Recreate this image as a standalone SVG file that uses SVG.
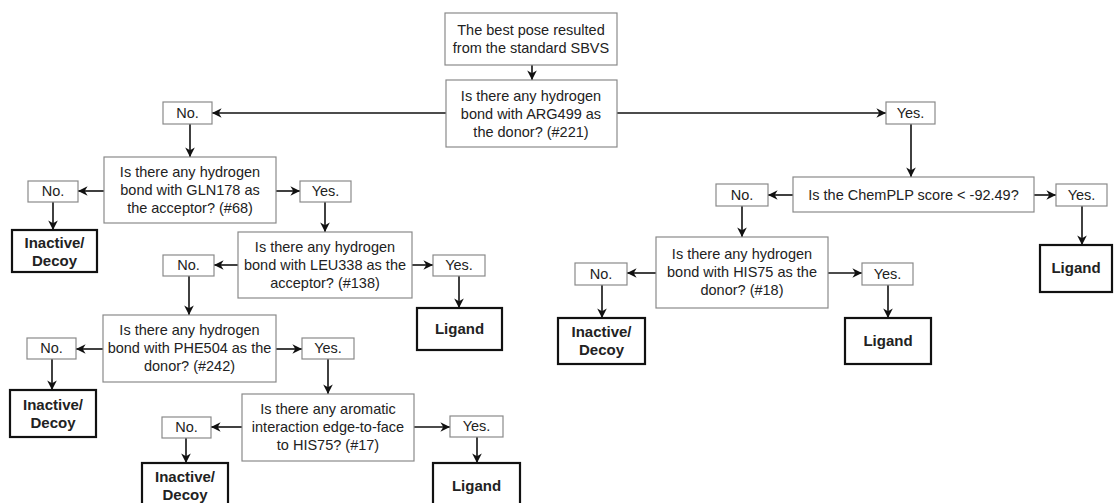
<svg xmlns="http://www.w3.org/2000/svg" width="1115" height="503" viewBox="0 0 1115 503">
<style>
text{font-family:"Liberation Sans",Arial,sans-serif;font-size:14.5px;fill:#222;text-anchor:middle}
.q{fill:#fff;stroke:#8a8a8a;stroke-width:1.2}
.yn{fill:#fff;stroke:#8a8a8a;stroke-width:1.2}
.t{fill:#fff;stroke:#111;stroke-width:2.2}
.b{font-weight:bold;font-size:15px}
.c line{stroke:#111;stroke-width:1.6;marker-end:url(#ah)}
</style>
<defs>
<marker id="ah" viewBox="0 0 10 10" refX="10" refY="5" markerWidth="6" markerHeight="6" orient="auto" markerUnits="strokeWidth">
<path d="M0,0 L10,5 L0,10 L3,5 Z" fill="#111"/>
</marker>
</defs>
<rect width="1115" height="503" fill="#fff"/>
<g class="c" id="connectors">
<line x1="532" y1="65" x2="532" y2="80"/>
<line x1="446" y1="113" x2="212" y2="113"/>
<line x1="617" y1="113" x2="886" y2="113"/>
<line x1="190" y1="124" x2="190" y2="157"/>
<line x1="104" y1="191" x2="78" y2="191"/>
<line x1="276" y1="191" x2="300" y2="191"/>
<line x1="53" y1="202" x2="53" y2="230"/>
<line x1="325" y1="202" x2="325" y2="232"/>
<line x1="238" y1="265" x2="214" y2="265"/>
<line x1="412" y1="265" x2="433" y2="265"/>
<line x1="189" y1="276" x2="189" y2="315"/>
<line x1="459" y1="276" x2="459" y2="308"/>
<line x1="103" y1="349" x2="76" y2="349"/>
<line x1="276" y1="349" x2="302" y2="349"/>
<line x1="52" y1="359" x2="52" y2="390"/>
<line x1="328" y1="359" x2="328" y2="394"/>
<line x1="242" y1="427" x2="211" y2="427"/>
<line x1="414" y1="427" x2="450" y2="427"/>
<line x1="186" y1="438" x2="186" y2="463"/>
<line x1="477" y1="437" x2="477" y2="463"/>
<line x1="911" y1="124" x2="911" y2="177"/>
<line x1="793" y1="195" x2="768" y2="195"/>
<line x1="1034" y1="195" x2="1056" y2="195"/>
<line x1="742" y1="206" x2="742" y2="237"/>
<line x1="1082" y1="206" x2="1082" y2="245"/>
<line x1="656" y1="273" x2="627" y2="273"/>
<line x1="828" y1="273" x2="862" y2="273"/>
<line x1="602" y1="285" x2="602" y2="318"/>
<line x1="888" y1="285" x2="888" y2="318"/>
</g>
<g id="start"><rect class="q" x="445" y="13" width="172" height="52"/><text x="531" y="35">The best pose resulted</text><text x="531" y="53">from the standard SBVS</text></g>
<g id="q-arg499"><rect class="q" x="446" y="80" width="171" height="67"/><text x="531" y="101">Is there any hydrogen</text><text x="531" y="119">bond with ARG499 as</text><text x="531" y="137">the donor? (#221)</text></g>
<g id="no-arg"><rect class="yn" x="163" y="102" width="49" height="22"/><text x="187.5" y="118">No.</text></g>
<g id="yes-arg"><rect class="yn" x="886" y="102" width="49" height="22"/><text x="910.5" y="118">Yes.</text></g>
<g id="q-gln178"><rect class="q" x="104" y="157" width="172" height="66"/><text x="190" y="177">Is there any hydrogen</text><text x="190" y="195">bond with GLN178 as</text><text x="190" y="213">the acceptor? (#68)</text></g>
<g id="no-gln"><rect class="yn" x="28" y="181" width="50" height="21"/><text x="53" y="196">No.</text></g>
<g id="yes-gln"><rect class="yn" x="300" y="181" width="51" height="21"/><text x="325.5" y="196">Yes.</text></g>
<g id="decoy-gln"><rect class="t" x="12" y="230" width="85" height="42"/><text class="b" x="54.5" y="248">Inactive/</text><text class="b" x="54.5" y="266">Decoy</text></g>
<g id="q-leu338"><rect class="q" x="238" y="232" width="174" height="66"/><text x="325" y="252">Is there any hydrogen</text><text x="325" y="270">bond with LEU338 as the</text><text x="325" y="288">acceptor? (#138)</text></g>
<g id="no-leu"><rect class="yn" x="163" y="255" width="51" height="21"/><text x="188.5" y="270">No.</text></g>
<g id="yes-leu"><rect class="yn" x="433" y="255" width="52" height="21"/><text x="459" y="270">Yes.</text></g>
<g id="ligand-leu"><rect class="t" x="417" y="308" width="85" height="42"/><text class="b" x="459.5" y="334">Ligand</text></g>
<g id="q-phe504"><rect class="q" x="103" y="315" width="173" height="67"/><text x="189.5" y="335">Is there any hydrogen</text><text x="189.5" y="353">bond with PHE504 as the</text><text x="189.5" y="371">donor? (#242)</text></g>
<g id="no-phe"><rect class="yn" x="27" y="338" width="49" height="21"/><text x="51.5" y="353">No.</text></g>
<g id="yes-phe"><rect class="yn" x="302" y="338" width="52" height="21"/><text x="328" y="353">Yes.</text></g>
<g id="decoy-phe"><rect class="t" x="10" y="390" width="86" height="47"/><text class="b" x="53" y="410">Inactive/</text><text class="b" x="53" y="428">Decoy</text></g>
<g id="q-aromatic"><rect class="q" x="242" y="394" width="172" height="67"/><text x="328" y="414">Is there any aromatic</text><text x="328" y="432">interaction edge-to-face</text><text x="328" y="450">to HIS75? (#17)</text></g>
<g id="no-arom"><rect class="yn" x="162" y="417" width="49" height="21"/><text x="186.5" y="432">No.</text></g>
<g id="yes-arom"><rect class="yn" x="450" y="416" width="53" height="21"/><text x="476.5" y="431">Yes.</text></g>
<g id="decoy-arom"><rect class="t" x="142" y="463" width="86" height="50"/><text class="b" x="185" y="482">Inactive/</text><text class="b" x="185" y="500">Decoy</text></g>
<g id="ligand-arom"><rect class="t" x="433" y="463" width="87" height="50"/><text class="b" x="476.5" y="491">Ligand</text></g>
<g id="q-chemplp"><rect class="q" x="793" y="177" width="241" height="35"/><text x="913.5" y="200">Is the ChemPLP score &lt; -92.49?</text></g>
<g id="no-chemplp"><rect class="yn" x="716" y="184" width="52" height="22"/><text x="742" y="200">No.</text></g>
<g id="yes-chemplp"><rect class="yn" x="1056" y="184" width="51" height="22"/><text x="1081.5" y="200">Yes.</text></g>
<g id="ligand-chemplp"><rect class="t" x="1040" y="245" width="72" height="47"/><text class="b" x="1076" y="273">Ligand</text></g>
<g id="q-his75"><rect class="q" x="656" y="237" width="172" height="71"/><text x="742" y="259">Is there any hydrogen</text><text x="742" y="277">bond with HIS75 as the</text><text x="742" y="295">donor? (#18)</text></g>
<g id="no-his"><rect class="yn" x="575" y="263" width="52" height="22"/><text x="601" y="279">No.</text></g>
<g id="yes-his"><rect class="yn" x="862" y="263" width="51" height="22"/><text x="887.5" y="279">Yes.</text></g>
<g id="decoy-his"><rect class="t" x="558" y="318" width="87" height="46"/><text class="b" x="601.5" y="337">Inactive/</text><text class="b" x="601.5" y="355">Decoy</text></g>
<g id="ligand-his"><rect class="t" x="845" y="318" width="86" height="46"/><text class="b" x="888" y="346">Ligand</text></g>
</svg>
